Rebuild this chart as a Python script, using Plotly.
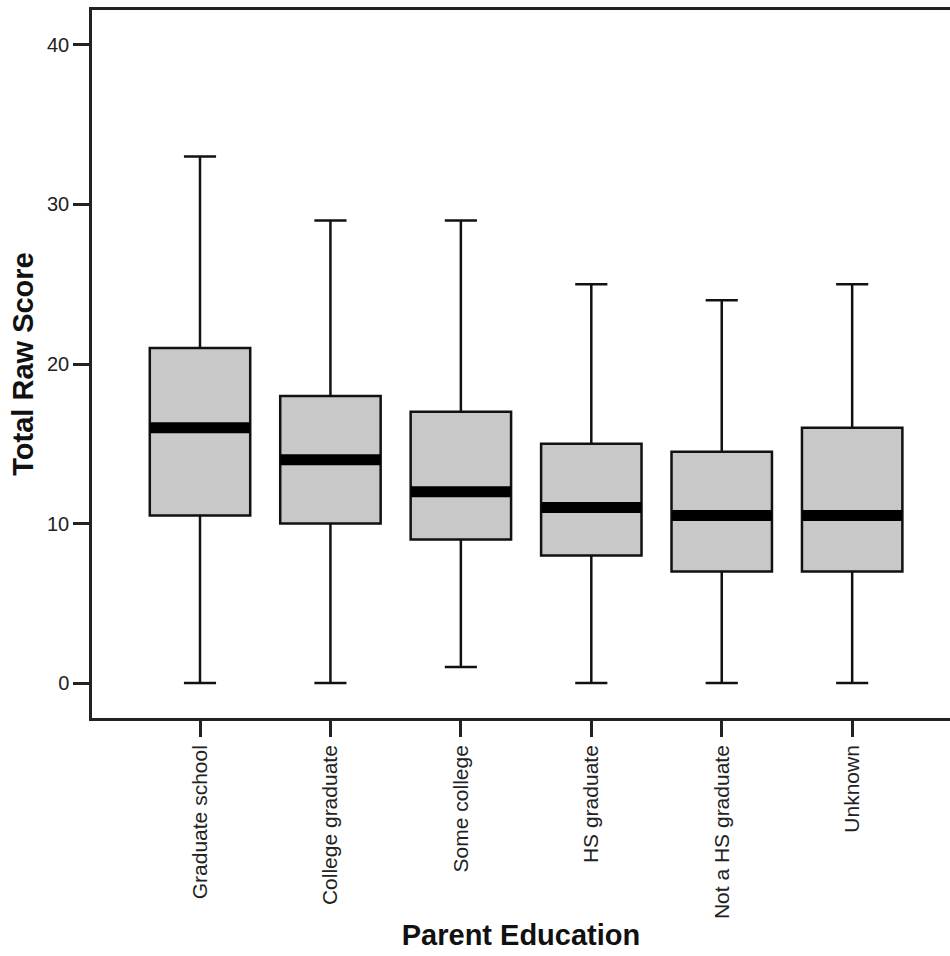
import plotly.graph_objects as go

categories = ["Graduate school", "College graduate", "Some college",
              "HS graduate", "Not a HS graduate", "Unknown"]
lower_whisker = [0, 0, 1, 0, 0, 0]
q1_values = [10.5, 10, 9, 8, 7, 7]
median_values = [16, 14, 12, 11, 10.5, 10.5]
q3_values = [21, 18, 17, 15, 14.5, 16]
upper_whisker = [33, 29, 29, 25, 24, 25]
y_ticks = [0, 10, 20, 30, 40]

FONT = "Liberation Sans, Arial, sans-serif"

fig = go.Figure()
fig.add_trace(go.Box(
    x=categories, q1=q1_values, median=median_values, q3=q3_values,
    lowerfence=lower_whisker, upperfence=upper_whisker,
    fillcolor="#c8c8c8", line=dict(color="#111111", width=2.5),
    whiskerwidth=0.32, width=0.77, boxpoints=False, showlegend=False,
    hoverinfo="skip",
))
fig.add_trace(go.Scatter(
    x=categories, y=median_values, mode="markers",
    marker=dict(symbol="line-ew", size=71.5, color="black",
                line=dict(color="black", width=11)),
    showlegend=False, hoverinfo="skip",
))

fig.update_layout(
    width=950, height=956,
    margin=dict(l=92, r=0, t=10, b=238),
    paper_bgcolor="white", plot_bgcolor="white",
    font=dict(family=FONT, color="#222222"),
)
fig.update_xaxes(
    type="category", range=[-0.828, 5.75],
    showline=True, linecolor="#222222", linewidth=2.5, mirror=True,
    ticks="outside", ticklen=16, tickwidth=2.5, tickcolor="#222222",
    tickangle=-90, tickfont=dict(size=21, family=FONT, color="#222222"),
    showgrid=False, zeroline=False, automargin=False,
    title=dict(text="<b>Parent Education</b>", font=dict(size=29, family=FONT, color="#111111"),
               standoff=7),
)
fig.update_yaxes(
    range=[-2.19, 42.19], tickvals=y_ticks,
    showline=True, linecolor="#222222", linewidth=2.5,
    ticks="outside", ticklen=16, tickwidth=2.5, tickcolor="#222222",
    tickfont=dict(size=20, family=FONT, color="#222222"),
    showgrid=False, zeroline=False, automargin=False,
    title=dict(text="<b>Total Raw Score</b>", font=dict(size=29, family=FONT, color="#111111"),
               standoff=5),
)

fig.write_html("out.html", config={"displayModeBar": False})
